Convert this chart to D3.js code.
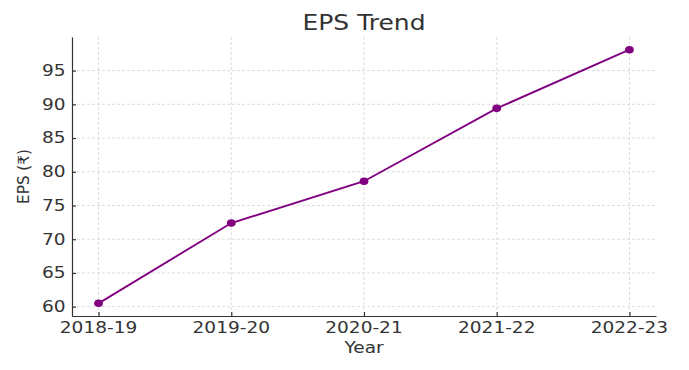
<!DOCTYPE html>
<html>
<head>
<meta charset="utf-8">
<script src="https://cdn.jsdelivr.net/npm/d3@7"></script>
<style>
  body { margin: 0; background: #fff; }
  text { font-family: "DejaVu Sans", sans-serif; fill: #333; }
</style>
</head>
<body>
<svg id="chart" width="689" height="370"></svg>
<script>
var years = ['2018-19', '2019-20', '2020-21', '2021-22', '2022-23'];
var eps = [60.5, 72.4, 78.6, 89.4, 98.1];
var yticks = [60, 65, 70, 75, 80, 85, 90, 95];

var plotL = 72, plotR = 656, plotT = 37, plotB = 316;
var stretch = 1.22; // glyphs in the picture are drawn wide

var svg = d3.select('#chart');

// matplotlib-like 5% margins on both axes
var xs = d3.scaleLinear().domain([-0.2, years.length - 1 + 0.2]).range([plotL, plotR]);
var ymin = d3.min(eps), ymax = d3.max(eps), pad = (ymax - ymin) * 0.05;
var ys = d3.scaleLinear().domain([ymin - pad, ymax + pad]).range([plotB, plotT]);

// grid
var grid = svg.append('g').attr('stroke', '#d4d4d4').attr('stroke-width', 0.8).attr('stroke-dasharray', '3,2');
grid.selectAll('line.v').data(years).enter().append('line')
  .attr('x1', function(d, i) { return xs(i); }).attr('x2', function(d, i) { return xs(i); })
  .attr('y1', plotT).attr('y2', plotB);
grid.selectAll('line.h').data(yticks).enter().append('line')
  .attr('x1', plotL).attr('x2', plotR)
  .attr('y1', function(d) { return ys(d); }).attr('y2', function(d) { return ys(d); });

// axes, ticks pointing inward
svg.append('g').attr('transform', 'translate(0,' + plotB + ')')
  .call(d3.axisTop(xs).tickValues(d3.range(years.length)).tickSize(4).tickSizeOuter(0).tickFormat(''));
svg.append('g').attr('transform', 'translate(' + plotL + ',0)')
  .call(d3.axisRight(ys).tickValues(yticks).tickSize(4).tickSizeOuter(0).tickFormat(''));
svg.selectAll('.domain, .tick line').attr('stroke', '#333').attr('stroke-width', 1.2);

// tick labels
svg.append('g').selectAll('text').data(years).enter().append('text')
  .attr('transform', function(d, i) { return 'translate(' + xs(i) + ',332.5) scale(' + stretch + ',1)'; })
  .attr('text-anchor', 'middle').attr('font-size', 15.2).text(function(d) { return d; });
svg.append('g').selectAll('text').data(yticks).enter().append('text')
  .attr('transform', function(d) { return 'translate(65.5,' + (ys(d) + 5.4) + ') scale(' + stretch + ',1)'; })
  .attr('text-anchor', 'end').attr('font-size', 15.2).text(function(d) { return d; });

// labels and title
svg.append('text').attr('transform', 'translate(' + (plotL + plotR) / 2 + ',352.5) scale(' + stretch + ',1)')
  .attr('text-anchor', 'middle').attr('font-size', 15.2).text('Year');
svg.append('text').attr('transform', 'translate(28.5,' + (plotT + plotB) / 2 + ') rotate(-90)')
  .attr('text-anchor', 'middle').attr('font-size', 15.2).text('EPS (₹)');
svg.append('text').attr('transform', 'translate(' + (plotL + plotR) / 2 + ',29.5) scale(' + stretch + ',1)')
  .attr('text-anchor', 'middle').attr('font-size', 20.5).text('EPS Trend');

// line and markers
var line = d3.line().x(function(d, i) { return xs(i); }).y(function(d) { return ys(d); });
svg.append('path').datum(eps).attr('d', line)
  .attr('fill', 'none').attr('stroke', '#800080').attr('stroke-width', 1.9);
svg.append('g').selectAll('ellipse').data(eps).enter().append('ellipse')
  .attr('cx', function(d, i) { return xs(i); }).attr('cy', function(d) { return ys(d); })
  .attr('rx', 4.4).attr('ry', 3.8).attr('fill', '#800080');
</script>
</body>
</html>
